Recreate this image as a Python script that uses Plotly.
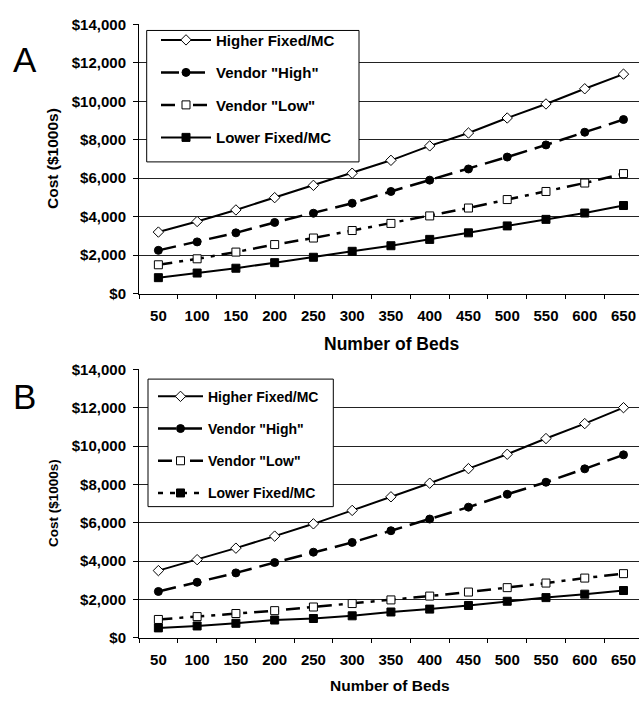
import plotly.graph_objects as go

W, H = 639, 701
ML = 139

beds = ["50", "100", "150", "200", "250", "300", "350", "400", "450", "500", "550", "600", "650"]

# Panel A
a_higher = [3200, 3750, 4350, 4990, 5630, 6260, 6930, 7680, 8350, 9130, 9860, 10650, 11410]
a_vhigh = [2250, 2690, 3160, 3700, 4180, 4700, 5310, 5900, 6480, 7100, 7730, 8390, 9050]
a_vlow = [1500, 1810, 2160, 2550, 2890, 3280, 3650, 4040, 4450, 4890, 5310, 5750, 6240]
a_lower = [830, 1070, 1320, 1610, 1890, 2200, 2490, 2820, 3160, 3520, 3860, 4190, 4580]

# Panel B
b_higher = [3500, 4070, 4670, 5300, 5940, 6640, 7350, 8060, 8820, 9570, 10390, 11170, 12000]
b_vhigh = [2410, 2890, 3380, 3920, 4460, 4970, 5580, 6190, 6810, 7480, 8110, 8810, 9540]
b_vlow = [950, 1100, 1260, 1410, 1600, 1780, 1970, 2170, 2380, 2610, 2850, 3110, 3340]
b_lower = [510, 610, 750, 920, 1000, 1140, 1340, 1490, 1680, 1900, 2090, 2270, 2460]

names = ["Higher Fixed/MC", 'Vendor "High"', 'Vendor "Low"', "Lower Fixed/MC"]
y_ticks = [0, 2000, 4000, 6000, 8000, 10000, 12000, 14000]
y_ticktext = ["${:,}".format(v) for v in y_ticks]

FONT = "Liberation Sans, Arial, Helvetica, sans-serif"

def px_x(p):
    return (p - ML) / (W - ML)

def px_y(p):
    return 1 - p / H

styles = [
    dict(line=dict(color="black", width=2, dash="solid"),
         marker=dict(symbol="diamond", size=8, color="white", line=dict(color="black", width=1))),
    dict(line=dict(color="black", width=2.5, dash="18px,8px"),
         marker=dict(symbol="circle", size=8, color="black", line=dict(color="black", width=1))),
    dict(line=dict(color="black", width=2.5, dash="14px,7px,4px,7px"),
         marker=dict(symbol="square", size=8, color="white", line=dict(color="black", width=1))),
    dict(line=dict(color="black", width=2, dash="solid"),
         marker=dict(symbol="square", size=8, color="black", line=dict(color="black", width=1))),
]

fig = go.Figure()

for i, ys in enumerate([a_higher, a_vhigh, a_vlow, a_lower]):
    fig.add_trace(go.Scatter(x=beds, y=ys, name=names[i], mode="lines+markers",
                             xaxis="x", yaxis="y", legend="legend",
                             legendgroup="a%d" % i, **styles[i]))

for i, ys in enumerate([b_higher, b_vhigh, b_vlow, b_lower]):
    st = dict(styles[i])
    if i == 3:
        # plotted as solid line, legend shows dashed
        fig.add_trace(go.Scatter(x=beds, y=ys, name=names[i], mode="lines+markers",
                                 xaxis="x2", yaxis="y2", showlegend=False, **st))
        fig.add_trace(go.Scatter(x=[None], y=[None], name=names[i], mode="lines+markers",
                                 xaxis="x2", yaxis="y2", legend="legend2",
                                 legendgroup="b%d" % i,
                                 line=dict(color="black", width=2.5, dash="5px,7px"),
                                 marker=st["marker"]))
    else:
        fig.add_trace(go.Scatter(x=beds, y=ys, name=names[i], mode="lines+markers",
                                 xaxis="x2", yaxis="y2", legend="legend2",
                                 legendgroup="b%d" % i, **st))

xcommon = dict(type="category", categoryorder="array", categoryarray=beds,
               range=[-0.5, 12.4], tickson="boundaries", ticks="outside", ticklen=4,
               tickcolor="black", showline=True, linecolor="black", linewidth=1,
               showgrid=False, zeroline=False, ticklabelstandoff=8,
               tickfont=dict(family=FONT, size=15, color="black", weight="bold"))
ycommon = dict(range=[0, 14000], tickmode="array", tickvals=y_ticks, ticktext=y_ticktext,
               ticks="outside", ticklen=5, tickcolor="black", showline=True,
               linecolor="black", linewidth=1, showgrid=True, gridcolor="#222222",
               gridwidth=1, zeroline=False, ticklabelstandoff=4,
               tickfont=dict(family=FONT, size=15, color="black", weight="bold"))

dom_a = [px_y(291.7), px_y(15.7)]
dom_b = [px_y(644.3), px_y(369.3)]

fig.update_layout(
    width=W, height=H,
    margin=dict(l=ML, r=0, t=0, b=0),
    paper_bgcolor="white", plot_bgcolor="white",
    font=dict(family=FONT, color="black"),
    xaxis=dict(anchor="y", domain=[0, 1], **xcommon),
    yaxis=dict(anchor="x", domain=dom_a, **ycommon),
    xaxis2=dict(anchor="y2", domain=[0, 1], **xcommon),
    yaxis2=dict(anchor="x2", domain=dom_b, **ycommon),
    legend=dict(x=px_x(156), y=px_y(15), xanchor="left", yanchor="top",
                bgcolor="rgba(0,0,0,0)", borderwidth=0,
                font=dict(family=FONT, size=15, color="black", weight="bold"),
                tracegroupgap=10, itemwidth=50, traceorder="grouped"),
    legend2=dict(x=px_x(153), y=px_y(381), xanchor="left", yanchor="top",
                 bgcolor="rgba(0,0,0,0)", borderwidth=0,
                 font=dict(family=FONT, size=14, color="black", weight="bold"),
                 tracegroupgap=11, itemwidth=45, traceorder="grouped"),
    showlegend=True,
    shapes=[
        dict(type="rect", xref="paper", yref="paper", layer="above",
             x0=px_x(146.7), x1=px_x(359), y0=px_y(156.7), y1=px_y(22),
             fillcolor="white", line=dict(color="black", width=1)),
        dict(type="rect", xref="paper", yref="paper", layer="above",
             x0=px_x(148), x1=px_x(333.3), y0=px_y(510), y1=px_y(379.3),
             fillcolor="white", line=dict(color="black", width=1)),
    ],
)

annots = [
    dict(text="A", x=px_x(25), y=px_y(52), font=dict(family=FONT, size=35, color="black")),
    dict(text="B", x=px_x(24), y=px_y(397), font=dict(family=FONT, size=35, color="black")),
    dict(text="Cost ($1000s)", x=px_x(53), y=px_y(153.7), textangle=-90,
         font=dict(family=FONT, size=15.5, color="black", weight="bold")),
    dict(text="Cost ($1000s)", x=px_x(53.5), y=px_y(506.8), textangle=-90,
         font=dict(family=FONT, size=13.5, color="black", weight="bold")),
    dict(text="Number of Beds", x=px_x(391), y=px_y(343),
         font=dict(family=FONT, size=17.5, color="black", weight="bold")),
    dict(text="Number of Beds", x=px_x(390), y=px_y(693),
         font=dict(family=FONT, size=15.5, color="black", weight="bold")),
]
for a in annots:
    a.update(xref="paper", yref="paper", xanchor="center", yanchor="middle",
             showarrow=False)
fig.update_layout(annotations=annots)

fig.write_html("out.html", config={"displayModeBar": False},
               post_script="document.body.style.margin='0';document.body.style.padding='0';document.body.style.overflow='hidden';")
